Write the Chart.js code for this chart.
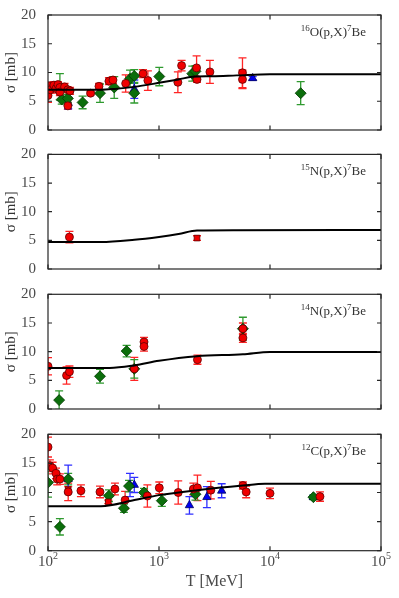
<!DOCTYPE html>
<html>
<head>
<meta charset="utf-8">
<script src="https://cdn.jsdelivr.net/npm/chart.js@4.4.0/dist/chart.umd.min.js"></script>
<style>
body { margin: 0; background: #fff; width: 399px; height: 598px; overflow: hidden; position: relative; }
canvas { position: absolute; left: 0; }
</style>
</head>
<body>
<script>
// pontos: [T (MeV), sigma (mb), erro]
const o16Vermelho = [
    [100, 6.0, 1.2], [102, 7.7, 0.5], [105, 7.0, 0.6], [113, 7.8, 0.6], [118, 7.2, 0.8],
    [123, 7.9, 0.5], [128, 7.4, 0.5], [128, 6.6, 0.6], [141, 7.5, 0.6], [151, 7.0, 0.5],
    [158, 6.8, 0.6], [151, 4.2, 0.6], [242, 6.4, 0.3], [288, 7.6, 0.5], [354, 8.5, 0.6],
    [385, 8.7, 0.6], [501, 8.1, 1.5], [718, 9.8, 0.7], [794, 8.6, 1.7], [1479, 8.3, 1.8],
    [1598, 11.2, 0.9], [2181, 10.8, 2.1], [2200, 8.8, 0.5], [2875, 10.1, 2.0],
    [5650, 9.95, 2.6], [5650, 8.8, 1.6]
];
const o16Verde = [
    [128, 7.5, 2.3], [133, 5.3, 0.8], [151, 5.5, 0.7], [205, 4.8, 1.1], [294, 6.4, 1.6],
    [395, 7.4, 1.9], [548, 8.9, 1.5], [599, 9.4, 1.1], [599, 6.4, 1.7], [1006, 9.3, 1.6],
    [1995, 9.8, 1.3], [2130, 10.2, 1.0], [18900, 6.4, 2.0]
];
const o16Azul = [[152, 4.7, 1.0], [599, 7.1, 1.6], [6980, 9.0, 0.3]];
const o16ModeloT = [100, 300, 400, 600, 1000, 1500, 2000, 3000, 5000, 10000, 100000];
const o16ModeloY = [7.0, 7.0, 7.15, 7.5, 8.2, 8.8, 9.25, 9.35, 9.5, 9.7, 9.7];

const n15Vermelho = [[156, 5.57, 1.0]];
const n15Quadrado = [[2200, 5.4, 0.4]];
const n15ModeloT = [100, 300, 600, 1000, 1500, 2200, 5000, 100000];
const n15ModeloY = [4.7, 4.7, 5.1, 5.6, 6.1, 6.7, 6.75, 6.8];

const n14Vermelho = [
    [100, 7.45, 1.5], [147, 5.85, 1.5], [156, 6.5, 1.0], [599, 7.0, 2.0], [733, 11.7, 0.8],
    [733, 10.9, 0.8], [2220, 8.6, 0.8], [5700, 14.0, 1.0], [5700, 12.4, 0.8]
];
const n14Verde = [[126, 1.55, 1.6], [294, 5.7, 1.2], [511, 10.1, 1.0], [599, 7.0, 1.6], [5700, 14.0, 2.0]];
const n14ModeloT = [100, 360, 600, 1000, 2200, 5700, 10000, 100000];
const n14ModeloY = [7.15, 7.15, 7.6, 8.4, 9.2, 9.55, 9.95, 9.95];

const c12Vermelho = [
    [100, 17.8, 1.7], [104, 14.6, 1.0], [110, 14.2, 1.0], [118, 13.3, 0.9], [121, 12.3, 1.0],
    [128, 12.3, 0.9], [152, 10.1, 1.5], [198, 10.3, 1.0], [294, 10.1, 1.0], [401, 10.6, 1.0],
    [495, 8.7, 1.5], [786, 9.4, 1.9], [1006, 10.8, 1.0], [1490, 10.0, 2.0], [2040, 10.6, 1.0],
    [2220, 10.8, 2.2], [2930, 10.4, 1.5], [5700, 11.2, 0.6], [6100, 10.1, 1.0],
    [10000, 9.85, 0.9], [28200, 9.3, 0.8]
];
const c12Quadrado = [[152, 10.5, 0.5], [349, 8.4, 0.3]];
const c12Verde = [
    [100, 11.7, 2.5], [128, 4.1, 1.4], [152, 12.3, 1.0], [354, 9.45, 1.0], [483, 7.3, 0.7],
    [537, 11.1, 1.0], [733, 10.0, 0.7], [1060, 8.6, 1.0], [2130, 9.7, 1.0], [24600, 9.2, 0.4]
];
const c12Azul = [
    [152, 12.3, 2.4], [548, 11.3, 2.0], [599, 11.3, 1.3], [1880, 7.8, 1.5], [2700, 9.2, 1.8],
    [3670, 10.3, 1.2], [24600, 9.2, 0.3]
];
const c12ModeloT = [100, 300, 600, 1000, 2200, 5700, 9000, 100000];
const c12ModeloY = [7.65, 7.65, 8.7, 9.55, 10.4, 11.2, 11.5, 11.5];

const yTicks = [0, 5, 10, 15, 20];
const xDecadas = [2, 3, 4, 5];

Chart.defaults.font.family = "'Liberation Serif', serif";

const estilos = {
    vermelho: { pointStyle: 'circle', r: 4, cor: '#f00000', borda: '#5a0000', barra: '#ff2424' },
    quadrado: { pointStyle: 'rect', r: 4, cor: '#f00000', borda: '#5a0000', barra: '#ff2424' },
    verde: { pointStyle: 'rectRot', r: 5.5, cor: '#0b6e0b', borda: '#033803', barra: '#2f9a2f' },
    azul: { pointStyle: 'triangle', r: 4.8, cor: '#0000f0', borda: '#00005a', barra: '#3030ff' }
};

function serie(pontos, tipo) {
    const e = estilos[tipo];
    return {
        type: 'scatter',
        data: pontos.map(p => ({ x: p[0], y: p[1] })),
        erros: pontos.map(p => p[2]),
        corBarra: e.barra,
        pointStyle: e.pointStyle,
        pointRadius: e.r,
        backgroundColor: e.cor,
        borderColor: e.borda,
        borderWidth: 0.8,
        order: 1
    };
}

function modelo(ts, ys) {
    return {
        type: 'line',
        data: ts.map((t, i) => ({ x: t, y: ys[i] })),
        borderColor: '#000',
        borderWidth: 2,
        pointRadius: 0,
        cubicInterpolationMode: 'monotone',
        fill: false,
        order: 0
    };
}

const painelPlugin = {
    id: 'painel',
    beforeDatasetsDraw(chart) {
        const ctx = chart.ctx, a = chart.chartArea;
        const xs = chart.scales.x, ys = chart.scales.y;
        ctx.save();
        ctx.beginPath();
        ctx.rect(a.left, a.top, a.right - a.left, a.bottom - a.top);
        ctx.clip();
        chart.data.datasets.forEach(ds => {
            if (!ds.erros) return;
            ctx.strokeStyle = ds.corBarra;
            ctx.lineWidth = 1.3;
            ds.data.forEach((p, i) => {
                const px = xs.getPixelForValue(p.x);
                const y1 = ys.getPixelForValue(p.y - ds.erros[i]);
                const y2 = ys.getPixelForValue(p.y + ds.erros[i]);
                ctx.beginPath();
                ctx.moveTo(px, y1); ctx.lineTo(px, y2);
                ctx.moveTo(px - 4, y1); ctx.lineTo(px + 4, y1);
                ctx.moveTo(px - 4, y2); ctx.lineTo(px + 4, y2);
                ctx.stroke();
            });
        });
        ctx.restore();
    },
    afterDatasetsDraw(chart, args, opts) {
        const ctx = chart.ctx, a = chart.chartArea;
        const xs = chart.scales.x, ys = chart.scales.y;
        ctx.save();
        ctx.strokeStyle = '#262626';
        ctx.lineWidth = 1.2;
        ctx.strokeRect(a.left, a.top, a.right - a.left, a.bottom - a.top);
        ctx.beginPath();
        yTicks.forEach(v => {
            const py = ys.getPixelForValue(v);
            ctx.moveTo(a.left, py); ctx.lineTo(a.left + 4, py);
            ctx.moveTo(a.right, py); ctx.lineTo(a.right - 4, py);
        });
        xDecadas.forEach(d => {
            const px = xs.getPixelForValue(Math.pow(10, d));
            ctx.moveTo(px, a.bottom); ctx.lineTo(px, a.bottom - 4.5);
            ctx.moveTo(px, a.top); ctx.lineTo(px, a.top + 4.5);
        });
        ctx.stroke();

        // rótulo da reação
        ctx.fillStyle = '#333';
        ctx.textBaseline = 'alphabetic';
        const grande = "13px 'Liberation Serif', serif";
        const pequeno = "9px 'Liberation Serif', serif";
        const partes = [[opts.massa, pequeno, -5], [opts.alvo + '(p,X)', grande, 0], ['7', pequeno, -5], ['Be', grande, 0]];
        let largura = 0;
        partes.forEach(p => { ctx.font = p[1]; largura += ctx.measureText(p[0]).width; });
        let x = 366 - largura;
        const base = a.top + 21;
        partes.forEach(p => {
            ctx.font = p[1];
            ctx.fillText(p[0], x, base + p[2]);
            x += ctx.measureText(p[0]).width;
        });

        if (opts.eixoX) {
            ctx.fillStyle = '#4a4a4a';
            xDecadas.forEach(d => {
                const px = xs.getPixelForValue(Math.pow(10, d));
                ctx.font = "15px 'Liberation Serif', serif";
                const w1 = ctx.measureText('10').width;
                ctx.font = "10px 'Liberation Serif', serif";
                const w2 = ctx.measureText(String(d)).width;
                const x0 = px - (w1 + w2) / 2;
                ctx.font = "15px 'Liberation Serif', serif";
                ctx.fillText('10', x0, a.bottom + 15);
                ctx.font = "10px 'Liberation Serif', serif";
                ctx.fillText(String(d), x0 + w1, a.bottom + 8);
            });
            ctx.font = "16px 'Liberation Serif', serif";
            ctx.textAlign = 'center';
            ctx.fillText('T [MeV]', (a.left + a.right) / 2, a.bottom + 35);
        }
        ctx.restore();
    }
};

const paineis = [
    { topo: 15, massa: '16', alvo: 'O', datasets: [serie(o16Vermelho, 'vermelho'), serie(o16Verde, 'verde'), serie(o16Azul, 'azul'), modelo(o16ModeloT, o16ModeloY)] },
    { topo: 154.4, massa: '15', alvo: 'N', datasets: [serie(n15Vermelho, 'vermelho'), serie(n15Quadrado, 'quadrado'), modelo(n15ModeloT, n15ModeloY)] },
    { topo: 294.3, massa: '14', alvo: 'N', datasets: [serie(n14Vermelho, 'vermelho'), serie(n14Verde, 'verde'), modelo(n14ModeloT, n14ModeloY)] },
    { topo: 434.3, massa: '12', alvo: 'C', datasets: [serie(c12Vermelho, 'vermelho'), serie(c12Quadrado, 'quadrado'), serie(c12Verde, 'verde'), serie(c12Azul, 'azul'), modelo(c12ModeloT, c12ModeloY)] }
];

const alturaGrafico = 116.4;

paineis.forEach((p, k) => {
    const ultimo = k === paineis.length - 1;
    const topoCanvas = Math.floor(p.topo - 14);
    const alturaCanvas = ultimo ? 598 - topoCanvas : 142;
    const canvas = document.createElement('canvas');
    canvas.width = 399;
    canvas.height = alturaCanvas;
    canvas.style.top = topoCanvas + 'px';
    document.body.appendChild(canvas);

    const padTopo = p.topo - topoCanvas;
    new Chart(canvas, {
        data: { datasets: p.datasets },
        plugins: [painelPlugin],
        options: {
            responsive: false,
            animation: false,
            events: [],
            layout: { padding: { top: padTopo, bottom: alturaCanvas - padTopo - alturaGrafico, left: 0, right: 18 } },
            plugins: {
                legend: { display: false },
                tooltip: { enabled: false },
                painel: { massa: p.massa, alvo: p.alvo, eixoX: ultimo }
            },
            scales: {
                x: { type: 'logarithmic', min: 100, max: 100000, display: false },
                y: {
                    min: 0, max: 20,
                    afterBuildTicks: s => { s.ticks = yTicks.map(v => ({ value: v })); },
                    afterFit: s => { s.width = 48; },
                    grid: { display: false },
                    border: { display: false },
                    ticks: { color: '#4a4a4a', padding: 4, font: { size: 15 } },
                    title: { display: true, text: 'σ [mb]', color: '#333', font: { size: 15 }, padding: { top: 2, bottom: 0 } }
                }
            }
        }
    });
});
</script>
</body>
</html>
